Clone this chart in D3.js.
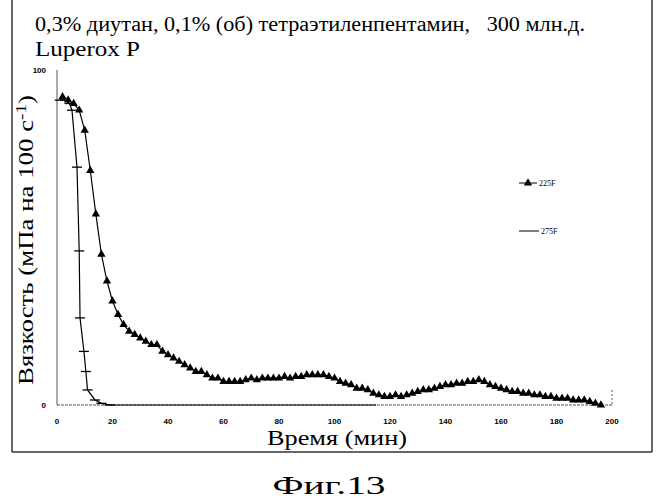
<!DOCTYPE html><html><head><meta charset="utf-8"><script src="https://cdn.jsdelivr.net/npm/d3@7"></script>
<style>body{margin:0;background:#fff}</style></head><body><svg id="c" width="663" height="500"></svg>
<script>
const t225=[2,4,6,8,10,12,14,16,18,20,22,24,26,28,30,32,34,36,38,40,42,44,46,48,50,52,54,56,58,60,62,64,66,68,70,72,74,76,78,80,82,84,86,88,90,92,94,96,98,100,102,104,106,108,110,112,114,116,118,120,122,124,126,128,130,132,134,136,138,140,142,144,146,148,150,152,154,156,158,160,162,164,166,168,170,172,174,176,178,180,182,184,186,188,190,192,194,196];
const v225=[92,91,90,88,82,70,57,45,37,31,27,24,22,21,20,19,18,18,16,15,14,13,12,11,10,10,9,8,8,7,7,7,7,7.5,8,7.5,8,8,8,8,8.5,8,8.5,8.5,9,9,9,9,8.5,8,7,6.5,6,5,5,4.5,3.5,3,2.5,2.5,3,2.5,3,3.5,4,4.5,4.5,5,5.5,6,6,6.5,6.5,7,7,7.5,7,6,5.5,5,4.5,4,4,3.5,3.5,3,3,2.5,2.5,2,2,2,1.5,1.5,1.5,1,0.5,0];
const t275=[1,3,4.5,5.4,7.2,8,8.3,9.7,10.4,11,13.7,16,19,25,40,60,80,100,115];
const v275=[91,91,90,88,71,46,26,16,10,4.5,1.5,0.5,0,0,0,0,0,0,0];
const xTicks=[0,20,40,60,80,100,120,140,160,180,200];
const yTicks=[0,100];
const svg=d3.select("#c");
const x=d3.scaleLinear().domain([0,200]).range([57,612]);
const y=d3.scaleLinear().domain([0,100]).range([405,70]);
svg.append("line").attr("x1",12).attr("x2",12).attr("y1",0).attr("y2",452).attr("stroke","#333").attr("stroke-width",1.5);
svg.append("line").attr("x1",652).attr("x2",652).attr("y1",0).attr("y2",452).attr("stroke","#333").attr("stroke-width",1.5);
svg.append("line").attr("x1",12).attr("x2",652).attr("y1",452).attr("y2",452).attr("stroke","#333").attr("stroke-width",1.5);
svg.append("line").attr("x1",57).attr("x2",57).attr("y1",70).attr("y2",405).attr("stroke","#555");
svg.append("line").attr("x1",57).attr("x2",612).attr("y1",405).attr("y2",405).attr("stroke","#555").attr("stroke-dasharray","3,1");
svg.append("line").attr("x1",612).attr("x2",612).attr("y1",390).attr("y2",405).attr("stroke","#555").attr("stroke-dasharray","2,2");
svg.selectAll(".xt").data(xTicks).join("text").attr("x",d=>x(d)).attr("y",424).attr("text-anchor","middle")
 .attr("font-family","Liberation Sans").attr("font-weight","bold").attr("font-size",8).text(d=>d);
svg.selectAll(".yt").data(yTicks).join("text").attr("x",46).attr("y",d=>y(d)+3).attr("text-anchor","end")
 .attr("font-family","Liberation Sans").attr("font-weight","bold").attr("font-size",8).text(d=>d);
const l=d3.line().x(d=>x(d[0])).y(d=>y(d[1]));
const d275=t275.map((t,i)=>[t,v275[i]]), d225=t225.map((t,i)=>[t,v225[i]]);
svg.append("path").attr("d",l(d275)).attr("fill","none").attr("stroke","#000").attr("stroke-width",1.2);
svg.selectAll(".p275").data(d275.filter(d=>d[0]<20)).join("path").attr("d","M-5,0H5").attr("stroke","#000").attr("stroke-width",1.3)
 .attr("transform",d=>`translate(${x(d[0])},${y(d[1])})`);
svg.append("path").attr("d",l(d225)).attr("fill","none").attr("stroke","#000").attr("stroke-width",1.2);
const tri=d3.symbol().type(d3.symbolTriangle).size(30);
svg.selectAll(".p225").data(d225).join("path").attr("d",tri).attr("fill","#000")
 .attr("transform",d=>`translate(${x(d[0])},${y(d[1])})`);
svg.append("line").attr("x1",519).attr("x2",537).attr("y1",183).attr("y2",183).attr("stroke","#000");
svg.append("path").attr("d",tri).attr("transform","translate(528,183)");
svg.append("text").attr("x",539).attr("y",186).attr("font-family","Liberation Serif").attr("font-size",8).text("225F");
svg.append("line").attr("x1",519).attr("x2",539).attr("y1",231).attr("y2",231).attr("stroke","#000");
svg.append("text").attr("x",541).attr("y",234).attr("font-family","Liberation Serif").attr("font-size",8).text("275F");
const ser="Liberation Serif";
svg.append("text").attr("x",35).attr("y",31).attr("font-family",ser).attr("font-size",20).attr("textLength",550).attr("lengthAdjust","spacingAndGlyphs").attr("xml:space","preserve").text("0,3% диутан, 0,1% (об) тетраэтиленпентамин,   300 млн.д.");
svg.append("text").attr("x",35).attr("y",56).attr("font-family",ser).attr("font-size",20).attr("textLength",105).attr("lengthAdjust","spacingAndGlyphs").text("Luperox P");
svg.append("text").attr("transform","translate(33,240) rotate(-90)").attr("text-anchor","middle").attr("font-family",ser).attr("font-size",21)
 .attr("textLength",290).attr("lengthAdjust","spacingAndGlyphs")
 .html('Вязкость (мПа на 100 с<tspan dy="-7" font-size="15">-1</tspan><tspan dy="7">)</tspan>');
svg.append("text").attr("x",337).attr("y",445).attr("text-anchor","middle").attr("font-family",ser).attr("font-size",21).attr("textLength",140).attr("lengthAdjust","spacingAndGlyphs").text("Время (мин)");
svg.append("text").attr("x",329).attr("y",494).attr("text-anchor","middle").attr("font-family",ser).attr("font-size",25).attr("textLength",113).attr("lengthAdjust","spacingAndGlyphs").text("Фиг.13");
</script></body></html>
